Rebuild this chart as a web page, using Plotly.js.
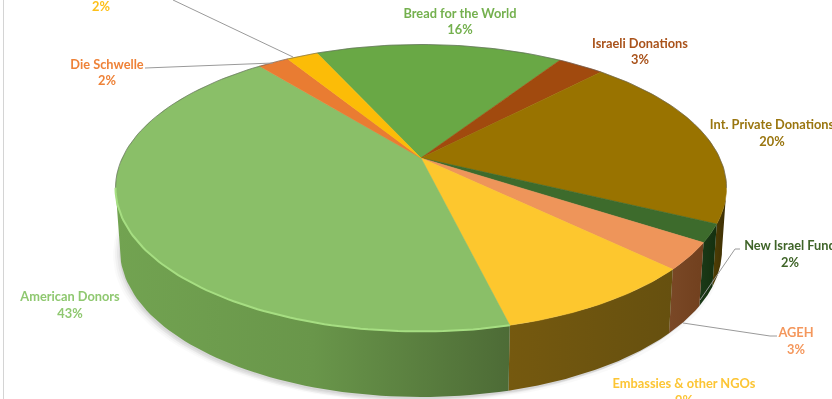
<!DOCTYPE html>
<html><head><meta charset="utf-8">
<script src="https://cdn.plot.ly/plotly-3.0.1.min.js"></script>
<style>html,body{margin:0;padding:0;background:#fff}#c{width:832px;height:399px;filter:blur(0.5px)}</style>
</head><body><div id="c"></div>
<script>
// ---- data ----
const categories = ["Bread for the World","Israeli Donations","Int. Private Donations","New Israel Fund","AGEH","Embassies & other NGOs","American Donors","Die Schwelle",""];
const values = [16,3,20,2,3,9,43,2,2];
const topColors = ["#69a845","#a14a0e","#997300","#3d6b2c","#ee955a","#fdc72e","#8abf68","#e97c32","#fcbc07"];
const labelColors = ["#74b04e","#a9521a","#9a7610","#3f6428","#f4975c","#fcc534","#8fc870","#ee8238","#fdc01a"];
const sideStops = [
  ["#4f7a33","#4f7a33"],["#6e3208","#6e3208"],["#524005","#3a2d04"],["#1c3a18","#14300f"],
  ["#7a4826","#71401e"],["#75590f","#66500f"],["#72a351","#69964a","#4d6b36"],["#a05520","#a05520"],["#a88008","#a88008"]];
// ---- layout of the drawing ----
const startAngle = -24.5, CX = 421, CY = 188, RX = 305.5, RY = 143.5, K = 0.209;
const LX = 301, LY = 147, LCY = 250;
const labelX = [460,640,772,790,796,684,70,107,101];
const nameY  = [15,44.5,126,247,334,385,298,65.5,-9];
const pctY   = [31,60.5,143,264,351,402,315,82,8];
const leaders = [
  {x:[145,273],y:[68,63]},
  {x:[173,293],y:[0,57]},
  {x:[740,735,700],y:[249,249,300]},
  {x:[683,770,777],y:[323,336,336]}
];
const rad = d => d*Math.PI/180;
function unit(a){ // perspective of the unit disc, angle clockwise from the back
  const u=Math.sin(rad(a)), v=Math.cos(rad(a)), w=1+K*v;
  return [u*Math.sqrt(1-K*K)/w,(v+K)/w];
}
const upper = a => { const [X,Y]=unit(a); return [CX+RX*X, CY-RY*Y]; };
const lower = a => { const [X,Y]=unit(a); return [CX+LX*X, LCY-LY*Y]; };
function range(a0,a1,n){ const o=[]; for(let i=0;i<=n;i++) o.push(a0+(a1-a0)*i/n); return o; }
const total = values.reduce((s,v)=>s+v,0);
let acc = startAngle;
const bounds = values.map(v=>{const b=[acc,acc+v/total*360]; acc=b[1]; return b;});
const apex = [CX, CY-RY*K];
const traces = [];
// soft shadow under the disc
[[-7,5,.02],[-5,4,.03],[-3,3,.04],[-1,2,.05],[0,5,.025]].forEach(([dx,dy,al])=>{
  const pts=range(0,360,160).map(lower);
  traces.push({type:"scatter",mode:"lines",x:pts.map(p=>p[0]+dx),y:pts.map(p=>p[1]+dy),fill:"toself",
    fillcolor:`rgba(0,0,0,${al})`,line:{width:0},hoverinfo:"skip"});
});
// side wall
const SIDE0=102, SIDE1=258;
bounds.forEach((b,i)=>{
  const a0=Math.max(b[0],SIDE0), a1=Math.min(b[1],SIDE1);
  if(a1<=a0) return;
  const as=range(a0,a1,60);
  const pts=as.map(upper).concat(as.slice().reverse().map(lower));
  const stops=sideStops[i];
  traces.push({type:"scatter",mode:"lines",x:pts.map(p=>p[0]),y:pts.map(p=>p[1]),fill:"toself",line:{width:0},
    fillgradient:{type:"horizontal",colorscale:stops.map((c,j)=>[j/(stops.length-1),c])},hoverinfo:"skip"});
});
// top slices
bounds.forEach((b,i)=>{
  const pts=[apex].concat(range(b[0],b[1],Math.max(8,Math.round(values[i]*4))).map(upper));
  pts.push(apex);
  traces.push({type:"scatter",mode:"lines",name:categories[i],x:pts.map(p=>p[0]),y:pts.map(p=>p[1]),fill:"toself",
    fillcolor:topColors[i],line:{width:0.5,color:topColors[i]},hoverinfo:"skip"});
});
// back rim outline and front highlight
const back=range(-102,102,120).map(upper);
traces.push({type:"scatter",mode:"lines",x:back.map(p=>p[0]),y:back.map(p=>p[1]),line:{width:1,color:"rgba(90,90,90,.55)"},hoverinfo:"skip"});
const am=range(bounds[6][0],258,80).map(upper);
traces.push({type:"scatter",mode:"lines",x:am.map(p=>p[0]),y:am.map(p=>p[1]),line:{width:2,color:"#a6de82"},hoverinfo:"skip"});
// leaders
leaders.forEach(l=>traces.push({type:"scatter",mode:"lines",x:l.x,y:l.y,line:{width:1,color:"#9a9a9a"},hoverinfo:"skip"}));
// left frame line
traces.push({type:"scatter",mode:"lines",x:[3.5,3.5],y:[0,399],line:{width:1,color:"#d4d4d4"},hoverinfo:"skip"});
// labels
const lx=[],ly=[],lt=[],lc=[];
categories.forEach((c,i)=>{
  if(c){lx.push(labelX[i]);ly.push(nameY[i]);lt.push("<b>"+c+"</b>");lc.push(labelColors[i]);}
  lx.push(labelX[i]);ly.push(pctY[i]);lt.push("<b>"+Math.round(values[i]/total*100)+"%</b>");lc.push(labelColors[i]);
});
traces.push({type:"scatter",mode:"text",x:lx,y:ly,text:lt,textposition:"middle center",
  textfont:{family:"Lato, sans-serif",size:12.8,color:lc},hoverinfo:"skip"});
Plotly.newPlot("c",traces,{
  width:832,height:399,margin:{l:0,r:0,t:0,b:0},showlegend:false,
  paper_bgcolor:"#fff",plot_bgcolor:"#fff",
  xaxis:{range:[0,832],visible:false,fixedrange:true},
  yaxis:{range:[399,0],visible:false,fixedrange:true}
},{staticPlot:true,displayModeBar:false});
</script></body></html>
